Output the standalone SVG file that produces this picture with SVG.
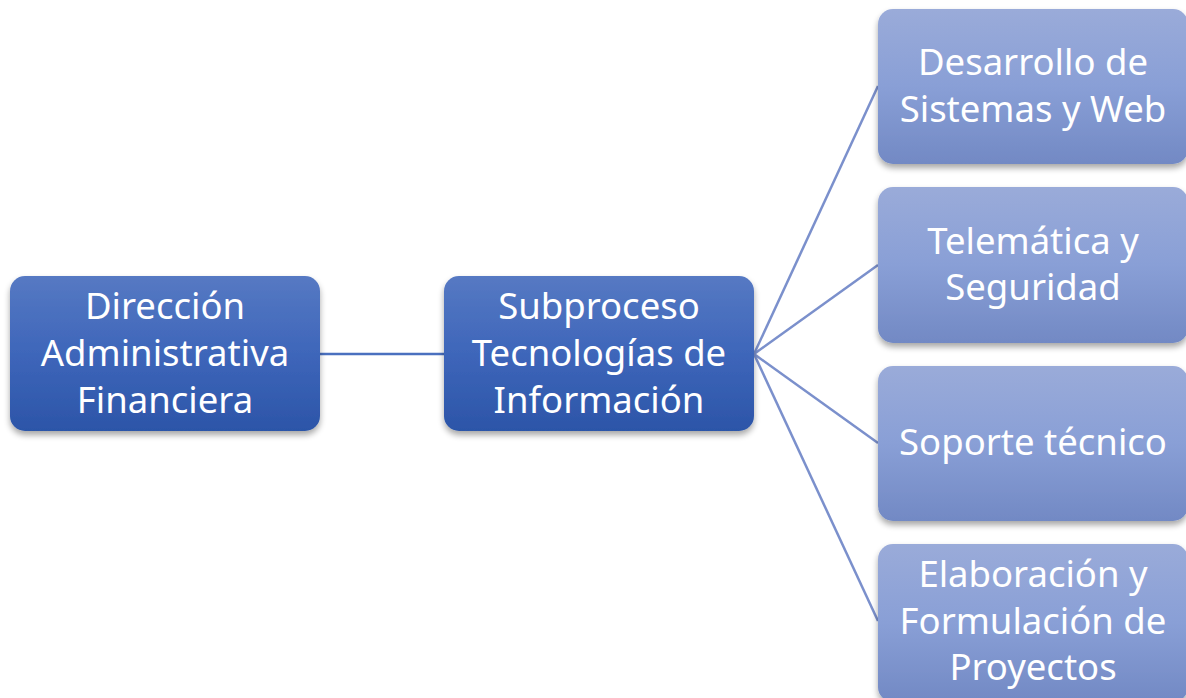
<svg xmlns="http://www.w3.org/2000/svg" width="1186" height="698" viewBox="0 0 1186 698">
<defs>
<linearGradient id="gDark" x1="0" y1="0" x2="0" y2="1">
<stop offset="0" stop-color="#5679c3"/>
<stop offset="0.5" stop-color="#3e66ba"/>
<stop offset="1" stop-color="#2c55a8"/>
</linearGradient>
<linearGradient id="gLight" x1="0" y1="0" x2="0" y2="1">
<stop offset="0" stop-color="#9aabd9"/>
<stop offset="0.5" stop-color="#899fd6"/>
<stop offset="1" stop-color="#7289c4"/>
</linearGradient>
<filter id="sh" x="-10%" y="-10%" width="120%" height="130%">
<feGaussianBlur in="SourceAlpha" stdDeviation="3"/>
<feOffset dx="0" dy="4"/>
<feComponentTransfer><feFuncA type="linear" slope="0.35"/></feComponentTransfer>
<feMerge><feMergeNode/><feMergeNode in="SourceGraphic"/></feMerge>
</filter>
</defs>
<style>
.dark{fill:url(#gDark);filter:url(#sh)}
.light{fill:url(#gLight);filter:url(#sh)}
text{font-family:"Noto Sans","Open Sans",sans-serif;font-size:36.5px;fill:#ffffff;text-anchor:middle}
.c1{stroke:#4a70bf;stroke-width:2.5;fill:none}
.c2{stroke:#7b90cc;stroke-width:2.5;fill:none}
</style>
<rect width="1186" height="698" fill="#ffffff"/>
<g id="connectors">
<line class="c1" x1="320" y1="354" x2="444" y2="354"/>
<line class="c2" x1="754" y1="354" x2="878" y2="86"/>
<line class="c2" x1="754" y1="354" x2="878" y2="265"/>
<line class="c2" x1="754" y1="354" x2="878" y2="443"/>
<line class="c2" x1="754" y1="354" x2="878" y2="621"/>
</g>
<g id="n-direccion">
<rect class="dark" x="10" y="276" width="310" height="155" rx="15"/>
<text x="165" y="319">Dirección</text>
<text x="165" y="366">Administrativa</text>
<text x="165" y="413">Financiera</text>
</g>
<g id="n-subproceso">
<rect class="dark" x="444" y="276" width="310" height="155" rx="15"/>
<text x="599" y="319">Subproceso</text>
<text x="599" y="366">Tecnologías de</text>
<text x="599" y="413">Información</text>
</g>
<g id="n-desarrollo">
<rect class="light" x="878" y="9" width="310" height="155" rx="15"/>
<text x="1033" y="75">Desarrollo de</text>
<text x="1033" y="122">Sistemas y Web</text>
</g>
<g id="n-telematica">
<rect class="light" x="878" y="187" width="310" height="156" rx="15"/>
<text x="1033" y="254">Telemática y</text>
<text x="1033" y="300">Seguridad</text>
</g>
<g id="n-soporte">
<rect class="light" x="878" y="366" width="310" height="155" rx="15"/>
<text x="1033" y="455">Soporte técnico</text>
</g>
<g id="n-elaboracion">
<rect class="light" x="878" y="544" width="310" height="158" rx="15"/>
<text x="1033" y="587">Elaboración y</text>
<text x="1033" y="634">Formulación de</text>
<text x="1033" y="680">Proyectos</text>
</g>
</svg>
